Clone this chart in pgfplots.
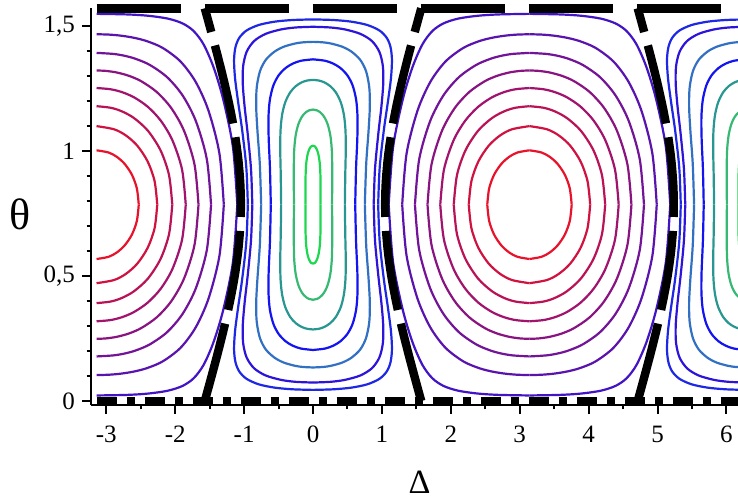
\documentclass[border=0pt]{standalone}
\usepackage{fontspec}
\setmainfont{Liberation Serif}
\usepackage{pgfplots}
\usepackage{pgfplotstable}
\pgfplotsset{compat=1.18}

% outer family (around Delta = +-pi), red -> blue
\definecolor{cAi}{RGB}{232,18,42}
\definecolor{cAii}{RGB}{208,18,64}
\definecolor{cAiii}{RGB}{185,18,86}
\definecolor{cAiv}{RGB}{161,19,108}
\definecolor{cAv}{RGB}{138,19,130}
\definecolor{cAvi}{RGB}{114,19,152}
\definecolor{cAvii}{RGB}{91,19,174}
\definecolor{cAviii}{RGB}{67,20,196}
\definecolor{cAix}{RGB}{44,20,218}
\definecolor{cAx}{RGB}{20,20,240}
% inner family (around Delta = 0, 2pi), blue -> green
\definecolor{cBv}{RGB}{30,40,228}
\definecolor{cBiv}{RGB}{50,112,195}
\definecolor{cBiii}{RGB}{40,150,145}
\definecolor{cBii}{RGB}{55,185,115}
\definecolor{cBi}{RGB}{30,215,80}

% quarter contours: u = |Delta - centre|, v = |theta - pi/4|, top -> side
\pgfplotstableread{
u v
0 0.2174
0.1739 0.2087
0.2940 0.1913
0.4081 0.1630
0.5135 0.1196
0.5850 0.0652
0.6126 0
}\tAi
\pgfplotstableread{
u v
0 0.3141
0.2539 0.3015
0.4282 0.2764
0.5921 0.2356
0.7418 0.1728
0.8424 0.0942
0.8810 0
}\tAii
\pgfplotstableread{
u v
0 0.3938
0.2001 0.3878
0.3602 0.3741
0.5431 0.3465
0.7467 0.2953
0.9300 0.2166
1.0521 0.1181
1.0989 0
}\tAiii
\pgfplotstableread{
u v
0 0.4665
0.1995 0.4618
0.3684 0.4502
0.5448 0.4292
0.7425 0.3918
0.9325 0.3359
1.1025 0.2566
1.2414 0.1399
1.2946 0
}\tAiv
\pgfplotstableread{
u v
0 0.5367
0.1322 0.5351
0.2928 0.5287
0.4700 0.5153
0.6475 0.4938
0.8730 0.4508
1.0842 0.3864
1.2703 0.2952
1.4216 0.1610
1.4798 0
}\tAv
\pgfplotstableread{
u v
0 0.6071
0.2494 0.6028
0.4169 0.5949
0.5725 0.5828
0.7756 0.5585
1.0242 0.5099
1.2485 0.4371
1.4420 0.3339
1.6002 0.1821
1.6618 0
}\tAvi
\pgfplotstableread{
u v
0 0.6816
0.1762 0.6803
0.3471 0.6762
0.5344 0.6680
0.7258 0.6544
0.9590 0.6271
1.2189 0.5726
1.4393 0.4908
1.6262 0.3749
1.7835 0.2045
1.8470 0
}\tAvii
\pgfplotstableread{
u v
0 0.7632
0.4456 0.7609
0.7534 0.7555
1.0359 0.7441
1.2483 0.7250
1.4091 0.6945
1.5535 0.6411
1.6984 0.5495
1.8399 0.4197
1.9799 0.2290
2.0427 0
}\tAviii
\pgfplotstableread{
u v
0 0.7115
0.2512 0.7087
0.4636 0.7009
0.6879 0.6831
0.8543 0.6546
0.9624 0.6119
1.0134 0.5550
1.0193 0.4838
0.9922 0.3913
0.9483 0.2846
0.8996 0.1423
0.8810 0
}\tAix
\pgfplotstableread{
u v
0 0.5813
0.1770 0.5755
0.2960 0.5638
0.3983 0.5464
0.4985 0.5173
0.5753 0.4767
0.6267 0.4185
0.6462 0.3488
0.6428 0.2616
0.6247 0.1453
0.6126 0
}\tAx
\pgfplotstableread{
u v
0 0.7409
0.2923 0.7386
0.5542 0.7320
0.7883 0.7186
0.9658 0.6964
1.0711 0.6668
1.1256 0.6297
1.1457 0.5779
1.1306 0.5038
1.0850 0.4075
1.0272 0.2963
0.9678 0.1482
0.9459 0
}\tBv
\pgfplotstableread{
u v
0 0.6512
0.1438 0.6493
0.2588 0.6447
0.4243 0.6317
0.5583 0.6121
0.6843 0.5796
0.7695 0.5340
0.8168 0.4689
0.8245 0.3907
0.8057 0.2930
0.7720 0.1628
0.7525 0
}\tBiv
\pgfplotstableread{
u v
0 0.4991
0.0837 0.4966
0.1641 0.4892
0.2495 0.4742
0.3313 0.4492
0.4033 0.4093
0.4484 0.3594
0.4708 0.2995
0.4758 0.2246
0.4687 0.1248
0.4624 0
}\tBiii
\pgfplotstableread{
u v
0 0.3804
0.0626 0.3766
0.0974 0.3709
0.1343 0.3614
0.1731 0.3461
0.2153 0.3195
0.2535 0.2739
0.2747 0.2092
0.2790 0.1141
0.2765 0
}\tBii
\pgfplotstableread{
u v
0 0.2362
0.0279 0.2327
0.0445 0.2268
0.0608 0.2173
0.0804 0.1984
0.0962 0.1701
0.1061 0.1299
0.1097 0.0709
0.1096 0
}\tBi
% separatrix
\pgfplotstableread{
d t
1.5708 0
1.4713 0.1
1.3748 0.2
1.2846 0.3
1.2041 0.4
1.1365 0.5
1.0860 0.6
1.0556 0.7
1.0472 0.7854
1.0556 0.8708
1.0860 0.9708
1.1365 1.0708
1.2041 1.1708
1.2846 1.2708
1.3748 1.3708
1.4713 1.4708
1.5708 1.5708
}\sepx

% #1 table, #2 colour, #3 centre, #4 #5 signs
\newcommand{\qc}[5]{\addplot[#2] table[x expr=#3#4\thisrow{u}, y expr=0.7854#5\thisrow{v}] {#1};}
\newcommand{\full}[3]{\qc{#1}{#2}{#3}{+}{+}\qc{#1}{#2}{#3}{-}{+}\qc{#1}{#2}{#3}{+}{-}\qc{#1}{#2}{#3}{-}{-}}
\newcommand{\rhalf}[3]{\qc{#1}{#2}{#3}{+}{+}\qc{#1}{#2}{#3}{+}{-}}
\newcommand{\lhalf}[3]{\qc{#1}{#2}{#3}{-}{+}\qc{#1}{#2}{#3}{-}{-}}

\begin{document}
\begin{tikzpicture}
\begin{axis}[
    scale only axis,
    width=323.5pt, height=201pt,
    xmin=-3.222, xmax=6.168,
    ymin=-0.016, ymax=1.592,
    axis lines=left,
    axis line style={-, line width=1.2pt},
    y axis line style={shorten >=2.65pt},
    xtick={-3,-2,...,6},
    ytick={0,0.5,1,1.5},
    minor x tick num=1,
    minor y tick num=4,
    tick align=outside,
    major tick length=4.5pt,
    minor tick length=2.2pt,
    tick style={black, line width=1pt},
    tick label style={font=\fontsize{12.5}{12.5}\selectfont},
    xticklabel style={yshift=-2.5pt},
    /pgf/number format/assume math mode=true,
    /pgf/number format/use comma,
    xlabel={Δ}, ylabel={θ},
    xlabel style={at={(axis description cs:0.508,-0.193)}, anchor=center, font=\fontsize{17}{17}\selectfont},
    ylabel style={rotate=-90, at={(axis description cs:-0.110,0.474)}, anchor=center, font=\fontsize{22}{22}\selectfont},
    every axis plot/.append style={smooth, line width=1.1pt},
]
\coordinate (bl) at (rel axis cs:0,0);
\coordinate (tr) at (rel axis cs:1,1);
% around Delta = pi and -pi
\full{\tAi}{cAi}{3.1416}
\full{\tAii}{cAii}{3.1416}
\full{\tAiii}{cAiii}{3.1416}
\full{\tAiv}{cAiv}{3.1416}
\full{\tAv}{cAv}{3.1416}
\full{\tAvi}{cAvi}{3.1416}
\full{\tAvii}{cAvii}{3.1416}
\full{\tAviii}{cAviii}{3.1416}
\rhalf{\tAi}{cAi}{-3.1416}
\rhalf{\tAii}{cAii}{-3.1416}
\rhalf{\tAiii}{cAiii}{-3.1416}
\rhalf{\tAiv}{cAiv}{-3.1416}
\rhalf{\tAv}{cAv}{-3.1416}
\rhalf{\tAvi}{cAvi}{-3.1416}
\rhalf{\tAvii}{cAvii}{-3.1416}
\rhalf{\tAviii}{cAviii}{-3.1416}
% around Delta = 0 and 2pi
\full{\tBv}{cBv}{0}
\full{\tAix}{cAix}{0}
\full{\tBiv}{cBiv}{0}
\full{\tAx}{cAx}{0}
\full{\tBiii}{cBiii}{0}
\full{\tBii}{cBii}{0}
\full{\tBi}{cBi}{0}
\lhalf{\tBv}{cBv}{6.2832}
\lhalf{\tAix}{cAix}{6.2832}
\lhalf{\tBiv}{cBiv}{6.2832}
\lhalf{\tAx}{cAx}{6.2832}
\lhalf{\tBiii}{cBiii}{6.2832}
\lhalf{\tBii}{cBii}{6.2832}
\lhalf{\tBi}{cBi}{6.2832}
% separatrix
\addplot[black, line width=4.2pt, smooth, dash pattern=on 40pt off 7pt] table[x=d, y=t] {\sepx};
\addplot[black, line width=4.2pt, smooth, dash pattern=on 40pt off 7pt] table[x expr=-\thisrow{d}, y=t] {\sepx};
\addplot[black, line width=4.2pt, smooth, dash pattern=on 40pt off 7pt] table[x expr=6.2832-\thisrow{d}, y=t] {\sepx};
\addplot[black, line width=4.5pt, sharp plot, dash pattern=on 42pt off 12pt] coordinates {(-3.1416,1.5708) (6.168,1.5708)};
\addplot[black, line width=4.5pt, sharp plot, dash pattern=on 10pt off 5pt on 4pt off 5pt] coordinates {(-3.1416,0) (6.168,0)};
\end{axis}
\path (bl) ++(-45.5pt,-47.5pt) coordinate (b1);
\path (tr) ++(0pt,1.5pt) coordinate (t1);
\pgfresetboundingbox
\path (b1) rectangle (t1);
\end{tikzpicture}
\end{document}
